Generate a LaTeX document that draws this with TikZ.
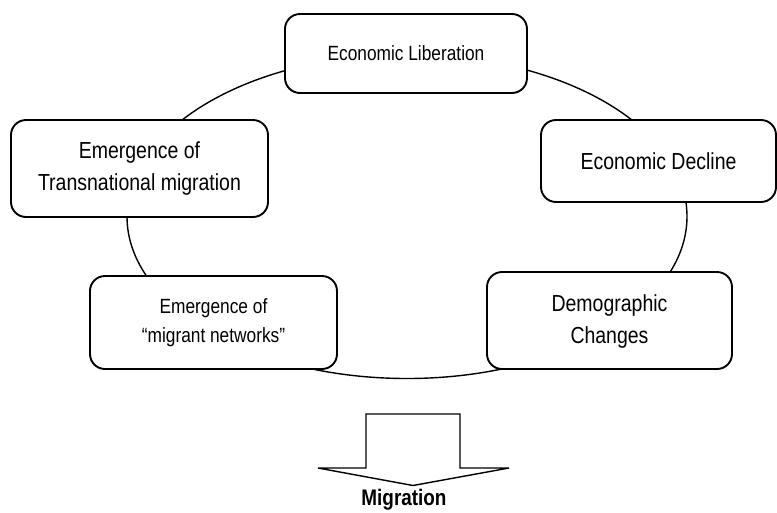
\documentclass[tikz,border=0pt]{standalone}
\usepackage{fontspec}
\setmainfont{Liberation Sans}[FakeStretch=0.84]
\usetikzlibrary{positioning}

\tikzset{
  factor/.style={draw, line width=1.9pt, rounded corners=15pt, fill=white,
    align=center, inner sep=0pt},
  bigtext/.style={font=\fontsize{23.2}{32}\selectfont},
  smalltext/.style={font=\fontsize{20.6}{29}\selectfont},
  ring/.style={line width=1.4pt},
  blockarrow/.style={line width=1.4pt, line join=miter}
}

\begin{document}
\begin{tikzpicture}[x=1pt, y=-1pt]
			%%%%% START %%%%%
			\useasboundingbox (0, 0) rectangle (777, 512);
			
			\draw[ring] (407, 216.5) ellipse [x radius=280, y radius=162];
			
			\node[factor, smalltext, minimum width=242pt, minimum height=79pt] (lib) at (406, 53.5) {Economic Liberation};
			
			\node[factor, bigtext, minimum width=235pt, minimum height=82pt] (decl) at (658.5, 161) {Economic Decline};
			
			\node[factor, bigtext, minimum width=257pt, minimum height=97pt] (trans) at (139.5, 168.5) {Emergence of\\Transnational migration};
			
			\node[factor, smalltext, minimum width=247pt, minimum height=93pt] (netw) at (213.5, 322.5) {Emergence of\\``migrant networks''};
			
			\node[factor, bigtext, minimum width=245pt, minimum height=97pt, text depth=2pt] (demo) at (609.5, 320.5) {Demographic\\Changes};
			
			\draw[blockarrow] (366, 414) -- (460, 414) -- (460, 468) -- (509, 468) -- (413, 485.5) -- (318, 468) -- (366, 468) -- cycle;
			
			\node[font=\fontsize{22.5}{27}\selectfont\bfseries, anchor=base] (mig) at (404, 505.5) {Migration};
			
			%%%%% END %%%%%
\end{tikzpicture}
\end{document}
